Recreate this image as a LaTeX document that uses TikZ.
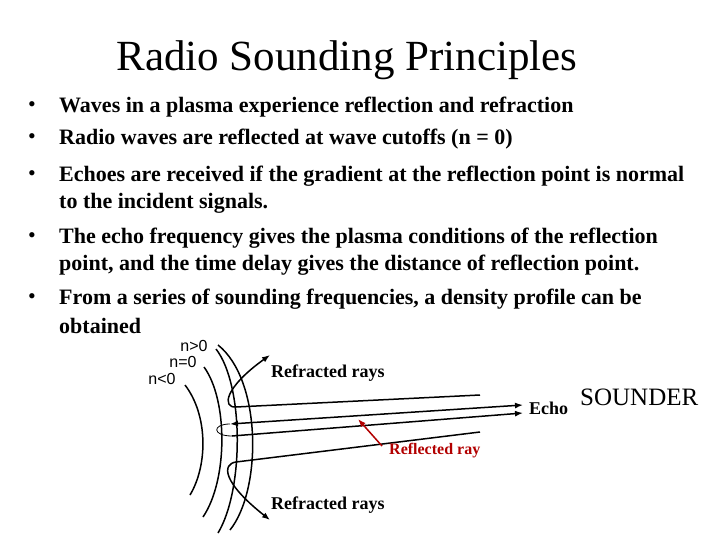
\documentclass[tikz,border=0pt]{standalone}
\usepackage{fontspec}
\setmainfont{Liberation Serif}
\newfontfamily\labelfont{Liberation Sans}
\usetikzlibrary{arrows.meta}
\begin{document}
\begin{tikzpicture}[x=1pt,y=-1pt,
    txt/.style={anchor=west,inner sep=0pt,font=\fontsize{22}{24}\selectfont\bfseries},
    bul/.style={anchor=west,inner sep=0pt,font=\fontsize{22}{24}\selectfont},
    lbl/.style={inner sep=0pt,font=\labelfont\fontsize{16}{18}\selectfont},
    small/.style={anchor=west,inner sep=0pt,font=\fontsize{18}{20}\selectfont\bfseries},
    ray/.style={line width=1.5pt},
    arr/.style={-{Latex[length=8pt,width=6pt]}}]
    \useasboundingbox (0,0) rectangle (720,540);
    % title
    \node[inner sep=0pt,font=\fontsize{43}{48}\selectfont] (title) at (347,60) {Radio Sounding Principles};
    % bullets
    \foreach \y in {107,139,176,238,299}
        \node[bul] at (28,\y) {\textbullet};
    \node[txt] (b1) at (59,107) {Waves in a plasma experience reflection and refraction};
    \node[txt] (b2) at (59,139) {Radio waves are reflected at wave cutoffs (n = 0)};
    \node[txt] (b3) at (59,176) {Echoes are received if the gradient at the reflection point is normal};
    \node[txt] (b3b) at (59,203) {to the incident signals.};
    \node[txt] (b4) at (59,238) {The echo frequency gives the plasma conditions of the reflection};
    \node[txt] (b4b) at (59,265) {point, and the time delay gives the distance of reflection point.};
    \node[txt] (b5) at (59,299) {From a series of sounding frequencies, a density profile can be};
    \node[txt] (b5b) at (59,326) {obtained};
    % plasma layers
    \draw[ray] (185,385) .. controls (208,415) and (208,465) .. (190,495);
    \draw[ray] (204,367) .. controls (228,400) and (228,480) .. (203,517);
    \draw[ray] (216,349) .. controls (244,385) and (244,490) .. (218,533);
    \draw[ray] (218,345) .. controls (262,380) and (262,490) .. (230,530);
    \node[lbl] (npos) at (194,346) {n>0};
    \node[lbl] (nzero) at (183,362) {n=0};
    \node[lbl] (nneg) at (162,379) {n<0};
    % rays
    \coordinate (ta) at (480,395);
    \coordinate (tb) at (236,407);
    \coordinate (tu) at (270,355);
    \draw[ray,arr] (ta) -- (tb) .. controls (222,408) and (224,388) .. (tu);
    \coordinate (ea) at (523,405);
    \coordinate (eb) at (230,424);
    \draw[ray,{Latex[length=8pt,width=6pt]}-{Latex[length=8pt,width=6pt]}] (ea) -- (eb);
    \coordinate (ec) at (523,413);
    \coordinate (ed) at (232,436);
    \draw[line width=0.8pt] (eb) .. controls (212,424) and (212,436) .. (ed);
    \draw[ray,arr] (ed) -- (ec);
    \coordinate (ba) at (480,432);
    \coordinate (bb) at (236,462);
    \coordinate (bu) at (270,520);
    \draw[ray,arr] (ba) -- (bb) .. controls (222,464) and (222,482) .. (bu);
    % labels
    \node[small] (rup) at (271,373) {Refracted rays};
    \node[small] (rdn) at (271,505) {Refracted rays};
    \node[small] (echo) at (529,408) {Echo};
    \node[anchor=west,inner sep=0pt,font=\fontsize{25}{28}\selectfont] (snd) at (580,397) {SOUNDER};
    \node[small,font=\fontsize{16}{18}\selectfont\bfseries,text=red!70!black] (refl) at (389,451) {Reflected ray};
    \coordinate (rt) at (358,419);
    \draw[line width=1.5pt,red!70!black,arr] (382,446) -- (rt);
\end{tikzpicture}
\end{document}
